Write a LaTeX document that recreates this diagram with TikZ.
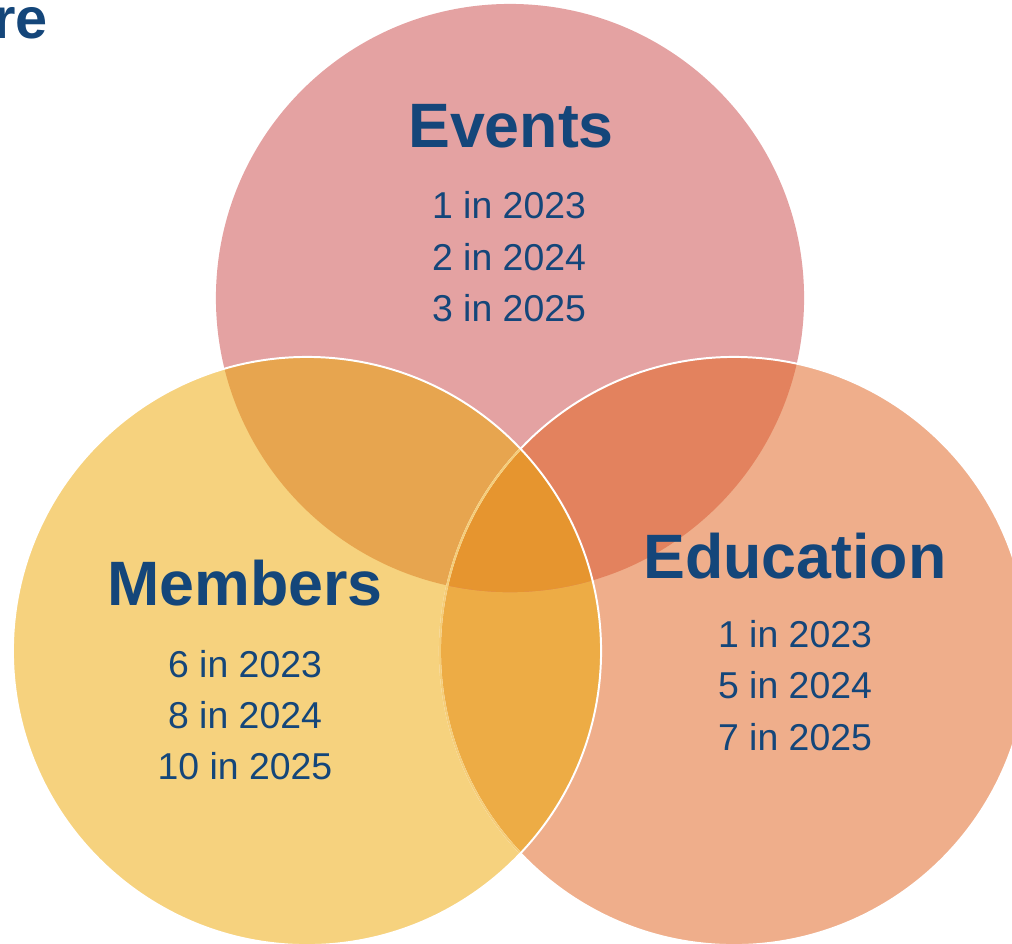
\documentclass[tikz,border=0pt]{standalone}
\usepackage{fontspec}
\setmainfont{Liberation Sans}
\usepackage{xcolor}
\definecolor{txt}{RGB}{20, 70, 122}
\definecolor{evc}{RGB}{228, 162, 162}
\definecolor{memc}{RGB}{246, 210, 126}
\definecolor{educ}{RGB}{239, 174, 139}
\definecolor{evmem}{RGB}{231, 165, 79}
\definecolor{evedu}{RGB}{227, 130, 94}
\definecolor{memedu}{RGB}{237, 172, 69}
\definecolor{allc}{RGB}{230, 149, 47}
\definecolor{faint}{RGB}{245, 205, 120}

\tikzset{
    head/.style={txt, anchor=base, inner sep=0pt, font=\fontsize{44.6}{50}\selectfont\bfseries},
    num/.style={txt, anchor=base, inner sep=0pt, font=\fontsize{26.6}{30}\selectfont},
}

\begin{document}
\begin{tikzpicture}[x=0.025cm, y=-0.025cm]
        \useasboundingbox (0,0) rectangle (1012,943);
        \clip (0,0) rectangle (1012,943);
        \coordinate (ev) at (510,298);
        \coordinate (mem) at (307,651);
        \coordinate (edu) at (734,651);
        % circles
        \fill[evc] (ev) circle (7.35cm);
        \fill[educ] (edu) circle (7.35cm);
        \fill[memc] (mem) circle (7.35cm);
        % overlaps
        \begin{scope}
            \clip (mem) circle (7.35cm);
            \fill[memedu] (edu) circle (7.35cm);
        \end{scope}
        \begin{scope}
            \clip (ev) circle (7.35cm);
            \fill[evmem] (mem) circle (7.35cm);
            \fill[evedu] (edu) circle (7.35cm);
            \clip (mem) circle (7.35cm);
            \fill[allc] (edu) circle (7.35cm);
        \end{scope}
        % outlines
        \draw[white, line width=1.4pt] (edu) circle (7.35cm);
        \begin{scope}
            \clip (mem) circle (7.35cm);
            \draw[faint, line width=1.4pt] (edu) circle (7.35cm);
        \end{scope}
        \draw[white, line width=1.4pt] (mem) circle (7.35cm);
        % title
        \node[txt, anchor=base east, inner sep=0pt, font=\fontsize{41}{44}\selectfont\bfseries] (title) at (48,38) {re};
        % texts
        \node[head] (events) at (511,147) {Events};
        \node[num] (ev1) at (509,218) {1 in 2023};
        \node[num] (ev2) at (509,270) {2 in 2024};
        \node[num] (ev3) at (509,321) {3 in 2025};
        \node[head] (members) at (245,605) {Members};
        \node[num] (mem1) at (245,677) {6 in 2023};
        \node[num] (mem2) at (245,728) {8 in 2024};
        \node[num] (mem3) at (245,779) {10 in 2025};
        \node[head] (education) at (795,578) {Education};
        \node[num] (edu1) at (795,647) {1 in 2023};
        \node[num] (edu2) at (795,698) {5 in 2024};
        \node[num] (edu3) at (795,750) {7 in 2025};
    \end{tikzpicture}
\end{document}
